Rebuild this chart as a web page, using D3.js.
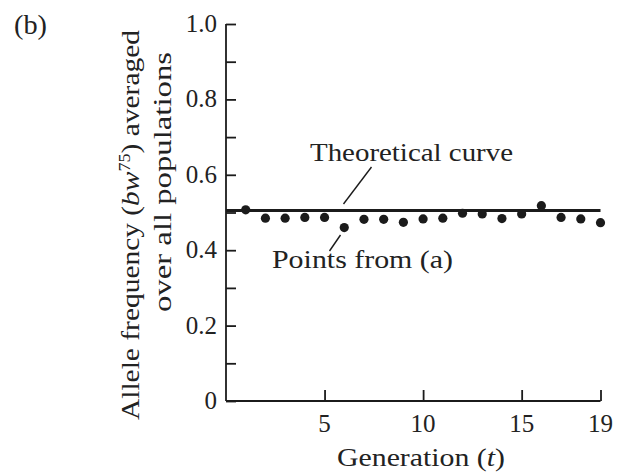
<!DOCTYPE html>
<html><head><meta charset="utf-8">
<script src="https://cdn.jsdelivr.net/npm/d3@7"></script>
<style>
html,body{margin:0;padding:0;background:#fff;}
svg{display:block;}
text{font-family:"Liberation Serif","DejaVu Serif",serif;fill:#222;}
</style></head>
<body>
<svg id="chart" width="621" height="472"></svg>
<script>
const generations = [1,2,3,4,5,6,7,8,9,10,11,12,13,14,15,16,17,18,19];
const pointsFromA = [0.507,0.485,0.485,0.487,0.487,0.460,0.482,0.482,0.474,0.483,0.485,0.498,0.496,0.484,0.496,0.518,0.487,0.483,0.473];
const theoretical = [[0,0.505],[19,0.505]];
const xTickValues = [5,10,15,19];
const yTickValues = [0,0.1,0.2,0.3,0.4,0.5,0.6,0.7,0.8,0.9,1.0];
const yLabelValues = [0,0.2,0.4,0.6,0.8,1.0];

const svg = d3.select("#chart");
const ink = "#1b1b1b";
const x = d3.scaleLinear().domain([0,19]).range([226,600.5]);
const y = d3.scaleLinear().domain([0,1]).range([401,24]);

// y axis
const yAxis = d3.axisRight(y).tickValues(yTickValues).tickSize(10).tickFormat("");
const gy = svg.append("g").attr("transform",`translate(${x(0)},0)`).call(yAxis);
gy.select(".domain").attr("d",`M0,${y(0)}V${y(1)}`);
gy.selectAll("path,line").attr("stroke",ink).attr("stroke-width",1.8);
svg.append("g").selectAll("text").data(yLabelValues).join("text")
  .attr("x",217).attr("y",d=>y(d)+8).attr("text-anchor","end")
  .style("font-size","25px")
  .text(d=>d===0?"0":d3.format(".1f")(d));

// x axis
const xAxis = d3.axisTop(x).tickValues(xTickValues).tickSize(11).tickFormat("");
const gx = svg.append("g").attr("transform",`translate(0,${y(0)})`).call(xAxis);
gx.select(".domain").attr("d",`M${x(0)},0H${x(19)}`);
gx.selectAll("path,line").attr("stroke",ink).attr("stroke-width",1.8);
svg.append("g").selectAll("text").data(xTickValues).join("text")
  .attr("x",d=>x(d)).attr("y",432).attr("text-anchor","middle")
  .style("font-size","25px").text(d=>d);

// theoretical line
svg.append("path").datum(theoretical)
  .attr("d",d3.line().x(d=>x(d[0])).y(d=>y(d[1])))
  .attr("stroke",ink).attr("stroke-width",3).attr("fill","none");

// points
svg.append("g").selectAll("circle").data(generations).join("circle")
  .attr("cx",d=>x(d)).attr("cy",(d,i)=>y(pointsFromA[i])).attr("r",4.6).attr("fill",ink);

// annotations
svg.append("text").attr("x",310).attr("y",161).style("font-size","25px")
  .attr("textLength",203).attr("lengthAdjust","spacingAndGlyphs").text("Theoretical curve");
svg.append("line").attr("x1",371.5).attr("y1",167).attr("x2",343.5).attr("y2",204)
  .attr("stroke",ink).attr("stroke-width",1.4);
svg.append("text").attr("x",272).attr("y",268).style("font-size","25px")
  .attr("textLength",181).attr("lengthAdjust","spacingAndGlyphs").text("Points from (a)");
svg.append("line").attr("x1",340.5).attr("y1",235).attr("x2",329.5).attr("y2",251)
  .attr("stroke",ink).attr("stroke-width",1.4);

// panel label
svg.append("text").attr("x",14).attr("y",34).style("font-size","27px")
  .attr("textLength",33).attr("lengthAdjust","spacingAndGlyphs").text("(b)");

// x title
const xt = svg.append("text").attr("x",337).attr("y",466).style("font-size","26px")
  .attr("textLength",168).attr("lengthAdjust","spacingAndGlyphs");
xt.append("tspan").text("Generation (");
xt.append("tspan").style("font-style","italic").text("t");
xt.append("tspan").text(")");

// y title
const yt1 = svg.append("text").attr("transform","translate(139,420) rotate(-90)")
  .style("font-size","26px").attr("textLength",390).attr("lengthAdjust","spacingAndGlyphs");
yt1.append("tspan").text("Allele frequency (");
yt1.append("tspan").style("font-style","italic").text("bw");
yt1.append("tspan").attr("dy",-9).style("font-size","16px").text("75");
yt1.append("tspan").attr("dy",9).text(") averaged");
svg.append("text").attr("transform","translate(171,312) rotate(-90)")
  .style("font-size","26px").attr("textLength",260).attr("lengthAdjust","spacingAndGlyphs")
  .text("over all populations");
</script>
</body></html>
